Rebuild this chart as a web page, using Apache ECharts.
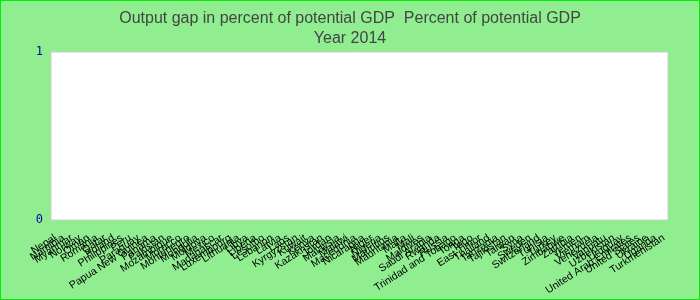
<!DOCTYPE html>
<html>
<head>
<meta charset="utf-8">
<script src="https://cdn.jsdelivr.net/npm/echarts@6/dist/echarts.min.js"></script>
<style>
html,body{margin:0;padding:0;background:#90ee90;}
#c{width:698px;height:298px;border:1px solid #00ee00;}
</style>
</head>
<body>
<div id="c"></div>
<script>
const categories = ["Nepal","Namibia","Myanmar","Norway","Oman","Romania","Qatar","Poland","Philippines","Peru","Paraguay","Papua New Guinea","Panama","Pakistan","Mozambique","Morocco","Montenegro","Mongolia","Moldova","Mexico","Madagascar","Luxembourg","Lithuania","Libya","Liberia","Lesotho","Lebanon","Latvia","Laos","Kyrgyzstan","Kuwait","Kenya","Kazakhstan","Jordan","Malaysia","Malawi","Macedonia","Nicaragua","Niger","Nigeria","Mauritius","Mauritania","Malta","Mali","Maldives","Saudi Arabia","Rwanda","Russia","Trinidad and Tobago","Tonga","Togo","East Timor","Thailand","Tanzania","Tajikistan","Taiwan","Syria","Sweden","Switzerland","Tunisia","Turkey","Zimbabwe","Zambia","Yemen","Vietnam","Venezuela","Vanuatu","Uzbekistan","Uruguay","United Arab Emirates","United States","Ukraine","Uganda","Turkmenistan"];
const values = categories.map(() => null);
const yTicks = [0, 1];

const chart = echarts.init(document.getElementById('c'));
chart.setOption({
  backgroundColor: '#90ee90',
  animation: false,
  title: {
    text: 'Output gap in percent of potential GDP  Percent of potential GDP',
    subtext: 'Year 2014',
    left: 'center',
    top: 5,
    itemGap: 4,
    textStyle: {fontFamily: 'Liberation Sans', fontSize: 16, fontWeight: 'normal', color: '#444'},
    subtextStyle: {fontFamily: 'Liberation Sans', fontSize: 16, color: '#444'}
  },
  grid: {left: 50, right: 31, top: 51, bottom: 79, show: true, backgroundColor: '#fff', borderColor: '#ccc', borderWidth: 1},
  xAxis: {
    type: 'category',
    data: categories,
    axisLine: {show: false},
    axisTick: {show: false},
    axisLabel: {interval: 0, rotate: 33, fontSize: 10.5, color: '#000', fontFamily: 'Liberation Sans', margin: 17}
  },
  yAxis: {
    type: 'value',
    min: yTicks[0],
    max: yTicks[1],
    interval: 1,
    axisLine: {show: false},
    axisTick: {show: false},
    splitLine: {show: false},
    axisLabel: {color: '#0000aa', fontSize: 12, fontFamily: 'DejaVu Sans Mono', margin: 8}
  },
  series: [{type: 'bar', data: values, itemStyle: {color: '#4472c4'}}]
});
</script>
</body>
</html>
